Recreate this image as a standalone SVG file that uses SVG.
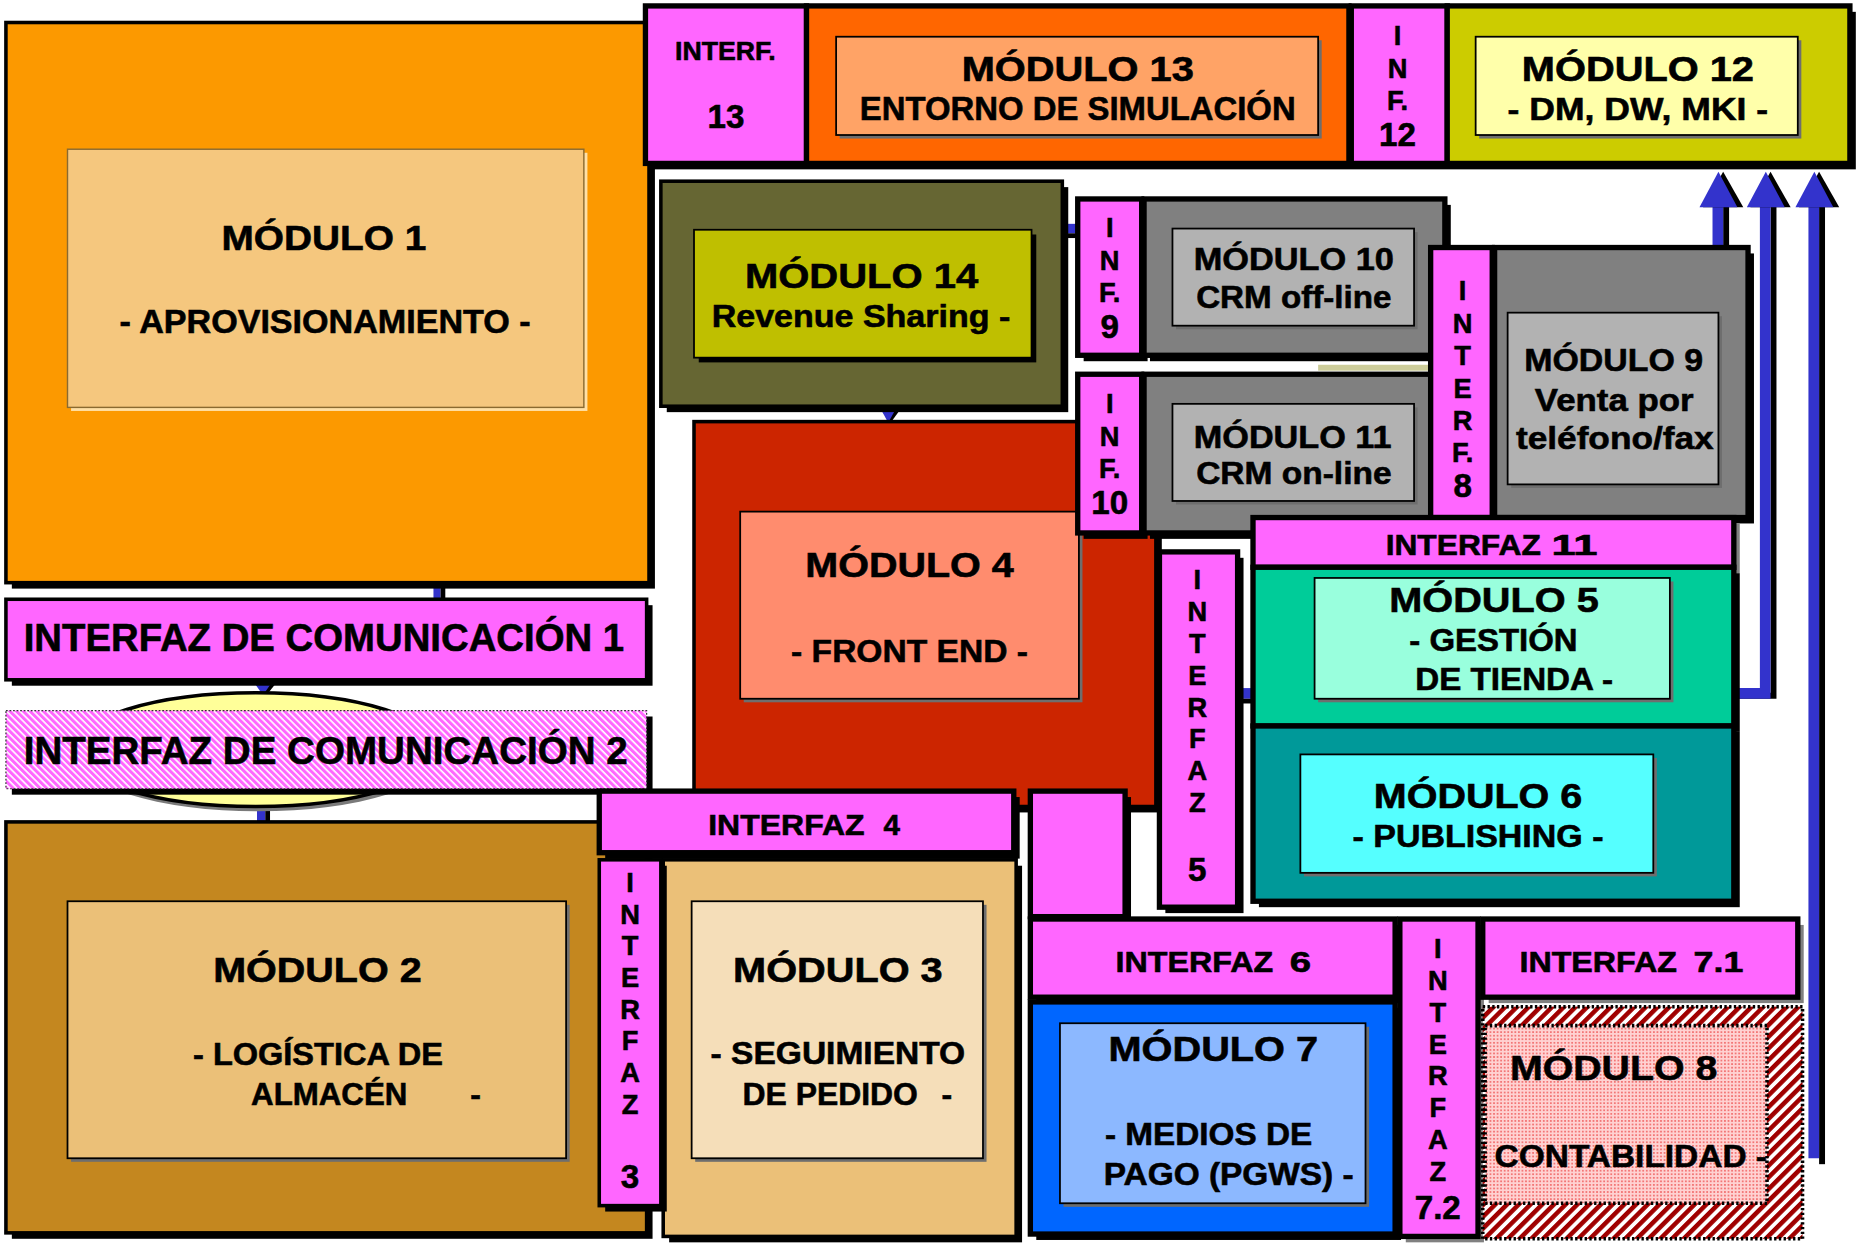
<svg xmlns="http://www.w3.org/2000/svg" width="1857" height="1247" viewBox="0 0 1857 1247">
<style>
.sh{fill:#000}
.bx{stroke:#000;stroke-width:3}
.bx4{stroke:#000;stroke-width:4.5}
.mg{fill:#FF66FF}
.in{stroke:#000;stroke-width:1.5}
.ish{fill:#6E6E6E}
.bl{fill:#3333CC}
.t{font-family:"Liberation Sans",Arial,Helvetica,sans-serif;font-weight:bold;fill:#000;stroke:#000;stroke-width:0.5}
.c{text-anchor:middle}
.m{font-size:30px}
.s{font-size:27px}
.i{font-size:25px}
.v{font-size:23px;text-anchor:middle}
.n{font-size:28px;text-anchor:middle}
</style>
<defs>
<pattern id="hmag" width="4" height="4" patternUnits="userSpaceOnUse" patternTransform="rotate(-45)">
<rect width="4" height="4" fill="#FFFFFF"/>
<rect width="2.6" height="4" fill="#FF66FF"/>
</pattern>
<pattern id="hred" width="7" height="7" patternUnits="userSpaceOnUse" patternTransform="rotate(45)">
<rect width="7" height="7" fill="#FFFFFF"/>
<rect width="3.8" height="7" fill="#A00000"/>
</pattern>
<pattern id="dots" width="3" height="3" patternUnits="userSpaceOnUse">
<rect width="3" height="3" fill="#FFD2D2"/>
<circle cx="1.5" cy="1.5" r="0.8" fill="#F06060"/>
</pattern>
</defs>
<rect width="1857" height="1247" fill="#FFFFFF"/>
<g transform="scale(1.18431)">

<g id="connectors">
<rect x="366" y="490" width="6" height="17" class="bl"/>
<rect x="372" y="490" width="4" height="17" class="sh"/>
<polygon points="215,577 233,577 225,587" class="sh"/>
<polygon points="215,577 229,577 222,587" class="bl"/>
<rect x="217" y="680" width="7" height="15" class="bl"/>
<rect x="224" y="680" width="4" height="15" class="sh"/>
<polygon points="744,346 760,346 752,357" class="sh"/>
<polygon points="744,346 756,346 750,357" class="bl"/>
<rect x="898" y="189" width="13" height="8" class="bl"/>
<rect x="898" y="197" width="13" height="4" class="sh"/>
<rect x="1044" y="581" width="15" height="9" class="bl"/>
<rect x="1044" y="590" width="15" height="4" class="sh"/>
<rect x="1113" y="308" width="97" height="5" fill="#CCCC99"/>
<rect x="1455" y="170" width="5" height="40" class="sh"/>
<rect x="1446" y="170" width="9" height="40" class="bl"/>
<polygon points="1455,145 1472,175 1438,175" class="sh"/>
<polygon points="1451,145 1467,175 1435,175" class="bl"/>
<path d="M1464,590 H1500 V170 H1495 V585 H1464 Z" class="sh"/>
<path d="M1464,581 H1486 V170 H1495 V590 H1464 Z" class="bl"/>
<polygon points="1495,145 1512,175 1478,175" class="sh"/>
<polygon points="1491,145 1507,175 1475,175" class="bl"/>
<rect x="1536" y="170" width="5" height="813" class="sh"/>
<rect x="1527" y="170" width="9" height="808" class="bl"/>
<polygon points="1536,145 1553,175 1519,175" class="sh"/>
<polygon points="1532,145 1548,175 1516,175" class="bl"/>
</g>

<g id="modulo1">
<rect x="10" y="24" width="543" height="473" class="sh"/>
<rect x="5" y="19" width="543" height="473" fill="#FC9900" class="bx"/>
<rect x="60" y="129" width="436" height="218" fill="#FFE0A6"/>
<rect x="57" y="126" width="436" height="218" fill="#F5C77E" stroke="#8A6A30" stroke-width="1.2"/>
<text class="t m" x="187" y="211" textLength="173" lengthAdjust="spacingAndGlyphs">MÓDULO 1</text>
<text class="t" font-size="28" x="101" y="281" textLength="347" lengthAdjust="spacingAndGlyphs">- APROVISIONAMIENTO -</text>
</g>

<g id="interfaz-com-1">
<rect x="10" y="511" width="541" height="68" class="sh"/>
<rect x="5" y="506" width="541" height="68" class="mg bx"/>
<text class="t" font-size="32" x="20" y="550" textLength="507" lengthAdjust="spacingAndGlyphs">INTERFAZ DE COMUNICACIÓN 1</text>
</g>

<g id="elipse">
<ellipse cx="218" cy="637" rx="154" ry="48" fill="#7A7A7A"/>
<ellipse cx="216" cy="633" rx="154" ry="48" fill="#FFFF99" stroke="#000" stroke-width="3"/>
</g>

<g id="interfaz-com-2">
<rect x="10" y="605" width="541" height="66" class="sh"/>
<rect x="5" y="600" width="541" height="66" fill="url(#hmag)" stroke="#333" stroke-width="1" stroke-dasharray="1.5,1.5"/>
<text class="t" font-size="32" x="20" y="645" textLength="510" lengthAdjust="spacingAndGlyphs">INTERFAZ DE COMUNICACIÓN 2</text>
</g>

<g id="modulo2">
<rect x="10" y="699" width="541" height="347" class="sh"/>
<rect x="5" y="694" width="541" height="347" fill="#C4871F" class="bx"/>
<rect x="60" y="764" width="421" height="217" class="ish"/>
<rect x="57" y="761" width="421" height="217" fill="#EBC078" class="in"/>
<text class="t m" x="180" y="829" textLength="176" lengthAdjust="spacingAndGlyphs">MÓDULO 2</text>
<text class="t s" x="163" y="899" textLength="211" lengthAdjust="spacingAndGlyphs">- LOGÍSTICA DE</text>
<text class="t s" x="212" y="933" textLength="132" lengthAdjust="spacingAndGlyphs">ALMACÉN</text>
<text class="t s" x="397" y="933">-</text>
</g>

<g id="modulo3">
<rect x="565" y="731" width="298" height="318" class="sh"/>
<rect x="560" y="726" width="298" height="318" fill="#EBC078" class="bx"/>
<rect x="587" y="764" width="246" height="217" class="ish"/>
<rect x="584" y="761" width="246" height="217" fill="#F5DEB9" class="in"/>
<text class="t m" x="619" y="829" textLength="177" lengthAdjust="spacingAndGlyphs">MÓDULO 3</text>
<text class="t s" x="600" y="898" textLength="215" lengthAdjust="spacingAndGlyphs">- SEGUIMIENTO</text>
<text class="t s" x="627" y="933" textLength="148" lengthAdjust="spacingAndGlyphs">DE PEDIDO</text>
<text class="t s" x="795" y="933">-</text>
</g>

<g id="interfaz3">
<rect x="511" y="731" width="52" height="292" class="sh"/>
<rect x="506" y="726" width="52" height="292" class="mg bx"/>
<text class="t v" x="532" y="753">I</text>
<text class="t v" x="532" y="780">N</text>
<text class="t v" x="532" y="806">T</text>
<text class="t v" x="532" y="833">E</text>
<text class="t v" x="532" y="860">R</text>
<text class="t v" x="532" y="887">F</text>
<text class="t v" x="532" y="914">A</text>
<text class="t v" x="532" y="941">Z</text>
<text class="t n" x="532" y="1003">3</text>
</g>

<g id="modulo14">
<rect x="563" y="158" width="339" height="190" class="sh"/>
<rect x="558" y="153" width="339" height="190" fill="#666633" class="bx"/>
<rect x="590" y="198" width="285" height="108" class="sh"/>
<rect x="586" y="194" width="285" height="108" fill="#BFBF00" class="in"/>
<text class="t m" x="629" y="243" textLength="197" lengthAdjust="spacingAndGlyphs">MÓDULO 14</text>
<text class="t" font-size="26" x="601" y="276" textLength="252" lengthAdjust="spacingAndGlyphs">Revenue Sharing -</text>
</g>

<g id="modulo4">
<rect x="591" y="361" width="390" height="325" class="sh"/>
<rect x="586" y="356" width="390" height="325" fill="#CC2500" class="bx"/>
<rect x="628" y="435" width="286" height="158" class="ish"/>
<rect x="625" y="432" width="286" height="158" fill="#FF8C6E" class="in"/>
<text class="t m" x="680" y="487" textLength="176" lengthAdjust="spacingAndGlyphs">MÓDULO 4</text>
<text class="t s" x="668" y="559" textLength="200" lengthAdjust="spacingAndGlyphs">- FRONT END -</text>
</g>

<g id="interfaz4">
<rect x="511" y="673" width="350" height="52" class="sh"/>
<rect x="506" y="668" width="350" height="52" class="mg bx4"/>
<text class="t i" x="598" y="705" textLength="132" lengthAdjust="spacingAndGlyphs">INTERFAZ</text>
<text class="t i" x="746" y="705">4</text>
</g>

<g id="barra-superior">
<rect x="550" y="10" width="1017" height="133" class="sh"/>
<g id="interf13">
<rect x="545" y="5" width="136" height="133" class="mg bx4"/>
<text class="t" font-size="22" x="570" y="51" textLength="85" lengthAdjust="spacingAndGlyphs">INTERF.</text>
<text class="t n" x="613" y="108">13</text>
</g>
<g id="modulo13">
<rect x="681" y="5" width="458" height="133" fill="#FF6600" class="bx4"/>
<rect x="709" y="34" width="407" height="83" class="ish"/>
<rect x="706" y="31" width="407" height="83" fill="#FFA366" class="in"/>
<text class="t" font-size="29" x="812" y="68" textLength="196" lengthAdjust="spacingAndGlyphs">MÓDULO 13</text>
<text class="t" font-size="28" x="726" y="101" textLength="368" lengthAdjust="spacingAndGlyphs">ENTORNO DE SIMULACIÓN</text>
</g>
<g id="inf12">
<rect x="1141" y="5" width="81" height="133" class="mg bx4"/>
<text class="t v" x="1180" y="38">I</text>
<text class="t v" x="1180" y="66">N</text>
<text class="t v" x="1180" y="93">F.</text>
<text class="t n" x="1180" y="123">12</text>
</g>
<g id="modulo12">
<rect x="1222" y="5" width="340" height="133" fill="#CCCC00" class="bx4"/>
<rect x="1249" y="34" width="272" height="83" class="ish"/>
<rect x="1246" y="31" width="272" height="83" fill="#FFFFAA" class="in"/>
<text class="t" font-size="29" x="1285" y="68" textLength="196" lengthAdjust="spacingAndGlyphs">MÓDULO 12</text>
<text class="t s" x="1273" y="101" textLength="220" lengthAdjust="spacingAndGlyphs">- DM, DW, MKI -</text>
</g>
</g>

<g id="inf9">
<rect x="915" y="173" width="54" height="132" class="sh"/>
<rect x="910" y="168" width="54" height="132" class="mg bx4"/>
<text class="t v" x="937" y="200">I</text>
<text class="t v" x="937" y="228">N</text>
<text class="t v" x="937" y="255">F.</text>
<text class="t n" x="937" y="285">9</text>
</g>

<g id="modulo10">
<rect x="971" y="173" width="254" height="132" class="sh"/>
<rect x="966" y="168" width="254" height="132" fill="#808080" class="bx4"/>
<rect x="993" y="196" width="204" height="82" class="ish"/>
<rect x="990" y="193" width="204" height="82" fill="#B2B2B2" class="in"/>
<text class="t s" x="1008" y="228" textLength="169" lengthAdjust="spacingAndGlyphs">MÓDULO 10</text>
<text class="t s" x="1010" y="260" textLength="165" lengthAdjust="spacingAndGlyphs">CRM off-line</text>
</g>

<g id="inf10">
<rect x="915" y="321" width="54" height="134" class="sh"/>
<rect x="910" y="316" width="54" height="134" class="mg bx4"/>
<text class="t v" x="937" y="349">I</text>
<text class="t v" x="937" y="377">N</text>
<text class="t v" x="937" y="404">F.</text>
<text class="t n" x="937" y="434">10</text>
</g>

<g id="modulo11">
<rect x="971" y="321" width="250" height="134" class="sh"/>
<rect x="966" y="316" width="250" height="134" fill="#808080" class="bx4"/>
<rect x="993" y="344" width="204" height="82" class="ish"/>
<rect x="990" y="341" width="204" height="82" fill="#B2B2B2" class="in"/>
<text class="t s" x="1008" y="378" textLength="167" lengthAdjust="spacingAndGlyphs">MÓDULO 11</text>
<text class="t s" x="1010" y="409" textLength="165" lengthAdjust="spacingAndGlyphs">CRM on-line</text>
</g>

<g id="interf8">
<rect x="1213" y="214" width="52" height="228" class="sh"/>
<rect x="1208" y="209" width="52" height="228" class="mg bx4"/>
<text class="t v" x="1235" y="253">I</text>
<text class="t v" x="1235" y="281">N</text>
<text class="t v" x="1235" y="308">T</text>
<text class="t v" x="1235" y="336">E</text>
<text class="t v" x="1235" y="363">R</text>
<text class="t v" x="1235" y="390">F.</text>
<text class="t n" x="1235" y="420">8</text>
</g>

<g id="modulo9">
<rect x="1267" y="214" width="214" height="228" class="sh"/>
<rect x="1262" y="209" width="214" height="228" fill="#808080" class="bx4"/>
<rect x="1276" y="267" width="178" height="145" class="ish"/>
<rect x="1273" y="264" width="178" height="145" fill="#B2B2B2" class="in"/>
<text class="t s" x="1287" y="313" textLength="151" lengthAdjust="spacingAndGlyphs">MÓDULO 9</text>
<text class="t s" x="1296" y="347" textLength="134" lengthAdjust="spacingAndGlyphs">Venta por</text>
<text class="t s" x="1280" y="379" textLength="167" lengthAdjust="spacingAndGlyphs">teléfono/fax</text>
</g>

<g id="interfaz11">
<rect x="1063" y="442" width="406" height="42" fill="#808080"/>
<rect x="1058" y="437" width="406" height="42" class="mg bx4"/>
<text class="t i" x="1170" y="469" textLength="131" lengthAdjust="spacingAndGlyphs">INTERFAZ</text>
<text class="t i" x="1310" y="469" textLength="39" lengthAdjust="spacingAndGlyphs">11</text>
</g>

<g id="modulo5">
<rect x="1063" y="484" width="406" height="134" class="sh"/>
<rect x="1058" y="479" width="406" height="134" fill="#00CC99" class="bx4"/>
<rect x="1113" y="491" width="300" height="102" class="ish"/>
<rect x="1110" y="488" width="300" height="102" fill="#99FFDD" class="in"/>
<text class="t m" x="1173" y="517" textLength="177" lengthAdjust="spacingAndGlyphs">MÓDULO 5</text>
<text class="t s" x="1190" y="550" textLength="142" lengthAdjust="spacingAndGlyphs">- GESTIÓN</text>
<text class="t s" x="1195" y="583" textLength="167" lengthAdjust="spacingAndGlyphs">DE TIENDA -</text>
</g>

<g id="modulo6">
<rect x="1063" y="618" width="406" height="148" class="sh"/>
<rect x="1058" y="613" width="406" height="148" fill="#009999" class="bx4"/>
<rect x="1101" y="640" width="298" height="100" class="ish"/>
<rect x="1098" y="637" width="298" height="100" fill="#55FFFF" class="in"/>
<text class="t m" x="1160" y="682" textLength="176" lengthAdjust="spacingAndGlyphs">MÓDULO 6</text>
<text class="t s" x="1142" y="715" textLength="212" lengthAdjust="spacingAndGlyphs">- PUBLISHING -</text>
</g>

<g id="interfaz5">
<rect x="984" y="471" width="66" height="300" class="sh"/>
<rect x="979" y="466" width="66" height="300" class="mg bx4"/>
<text class="t v" x="1011" y="497">I</text>
<text class="t v" x="1011" y="524">N</text>
<text class="t v" x="1011" y="551">T</text>
<text class="t v" x="1011" y="578">E</text>
<text class="t v" x="1011" y="605">R</text>
<text class="t v" x="1011" y="632">F</text>
<text class="t v" x="1011" y="659">A</text>
<text class="t v" x="1011" y="686">Z</text>
<text class="t n" x="1011" y="744">5</text>
</g>

<g id="caja-enlace">
<rect x="875" y="673" width="80" height="106" class="sh"/>
<rect x="870" y="668" width="80" height="106" class="mg bx4"/>
</g>

<g id="interfaz6">
<rect x="875" y="781" width="308" height="66" class="sh"/>
<rect x="870" y="776" width="308" height="66" class="mg bx4"/>
<text class="t i" x="942" y="821" textLength="133" lengthAdjust="spacingAndGlyphs">INTERFAZ</text>
<text class="t i" x="1089" y="821" textLength="18" lengthAdjust="spacingAndGlyphs">6</text>
</g>

<g id="modulo7">
<rect x="875" y="851" width="308" height="196" class="sh"/>
<rect x="870" y="846" width="308" height="196" fill="#0066FF" class="bx4"/>
<rect x="898" y="867" width="258" height="152" class="ish"/>
<rect x="895" y="864" width="258" height="152" fill="#8CB8FF" class="in"/>
<text class="t m" x="936" y="896" textLength="177" lengthAdjust="spacingAndGlyphs">MÓDULO 7</text>
<text class="t s" x="933" y="967" textLength="175" lengthAdjust="spacingAndGlyphs">- MEDIOS DE</text>
<text class="t s" x="932" y="1001" textLength="211" lengthAdjust="spacingAndGlyphs">PAGO (PGWS) -</text>
</g>

<g id="interfaz72">
<rect x="1187" y="781" width="66" height="268" fill="#808080"/>
<rect x="1182" y="776" width="66" height="268" class="mg bx4"/>
<text class="t v" x="1214" y="809">I</text>
<text class="t v" x="1214" y="836">N</text>
<text class="t v" x="1214" y="863">T</text>
<text class="t v" x="1214" y="890">E</text>
<text class="t v" x="1214" y="916">R</text>
<text class="t v" x="1214" y="943">F</text>
<text class="t v" x="1214" y="970">A</text>
<text class="t v" x="1214" y="997">Z</text>
<text class="t n" x="1214" y="1029">7.2</text>
</g>

<g id="interfaz71">
<rect x="1257" y="781" width="266" height="66" fill="#808080"/>
<rect x="1252" y="776" width="266" height="66" class="mg bx4"/>
<text class="t i" x="1283" y="821" textLength="133" lengthAdjust="spacingAndGlyphs">INTERFAZ</text>
<text class="t i" x="1430" y="821" textLength="42" lengthAdjust="spacingAndGlyphs">7.1</text>
</g>

<g id="modulo8">
<rect x="1252" y="850" width="270" height="196" fill="url(#hred)" stroke="#000" stroke-width="3" stroke-dasharray="2,2"/>
<rect x="1254" y="866" width="238" height="150" fill="url(#dots)" stroke="#000" stroke-width="3" stroke-dasharray="2,2"/>
<text class="t m" x="1275" y="912" textLength="175" lengthAdjust="spacingAndGlyphs">MÓDULO 8</text>
<text class="t s" x="1262" y="985" textLength="230" lengthAdjust="spacingAndGlyphs">CONTABILIDAD -</text>
</g>

</g>
</svg>
